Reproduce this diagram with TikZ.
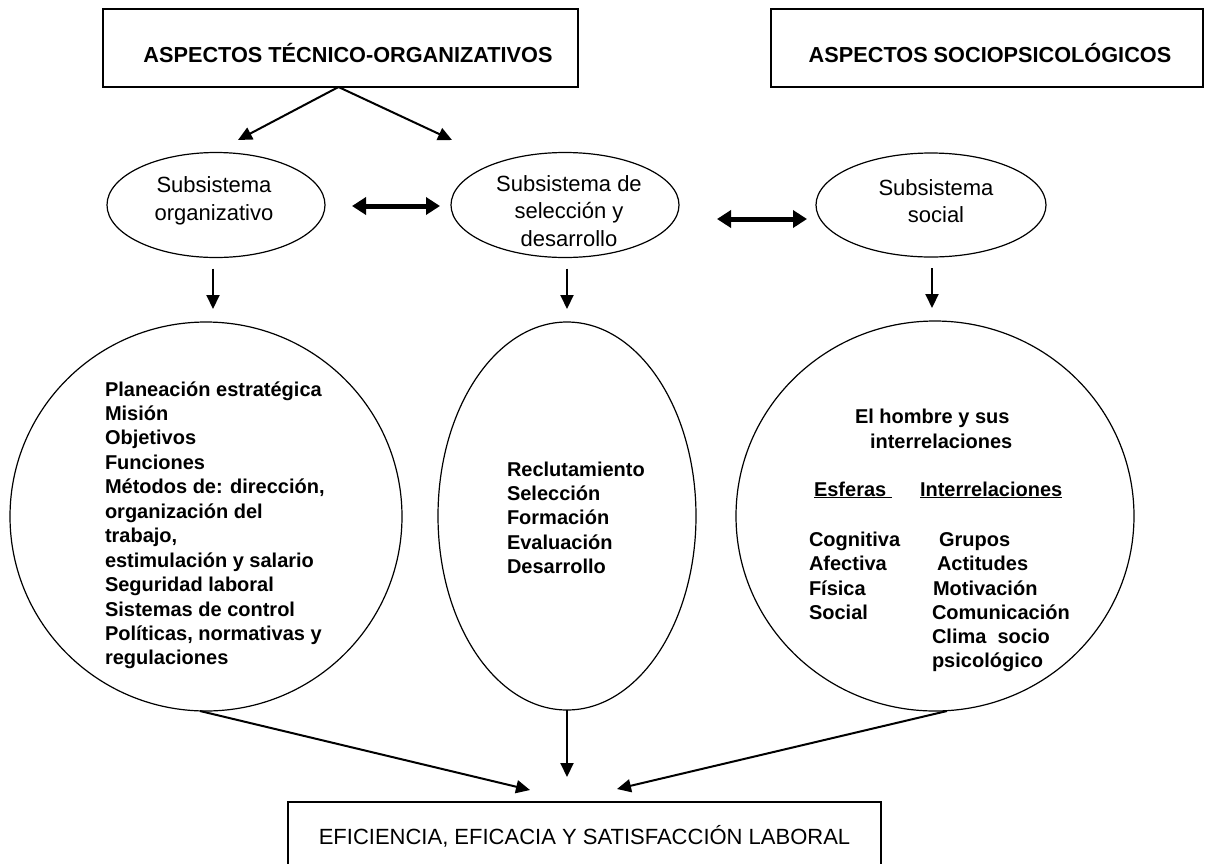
\documentclass[tikz,border=0pt]{standalone}
\usepackage{fontspec}
\setmainfont{Liberation Sans}
\usetikzlibrary{shapes.geometric,arrows.meta}
\begin{document}
\begin{tikzpicture}[x=1pt,y=-1pt,
  every node/.style={inner sep=0pt, outer sep=0pt},
  topbox/.style={draw, line width=1.5pt, minimum height=78pt},
  toptext/.style={font=\fontsize{21.7}{26}\selectfont\bfseries},
  subsys/.style={draw, ellipse, line width=1.2pt},
  subtext/.style={align=center, font=\fontsize{22}{27.5}\selectfont},
  area/.style={draw, ellipse, line width=1.2pt},
  item/.style={anchor=base west, font=\fontsize{20}{24.45}\selectfont\bfseries},
  arr/.style={line width=2pt, -{Triangle[length=14pt,width=13pt]}},
  dbl/.style={line width=5pt, {Triangle[length=14pt,width=17pt]}-{Triangle[length=14pt,width=17pt]}},
]
\useasboundingbox (0,0) rectangle (1212,863);

% headings
\node[topbox, minimum width=475pt] (t1) at (340.5,48) {};
\node[toptext] (t1l) at (348,53) {ASPECTOS TÉCNICO-ORGANIZATIVOS};
\node[topbox, minimum width=432pt] (t2) at (987,48) {};
\node[toptext] (t2l) at (990,53) {ASPECTOS SOCIOPSICOLÓGICOS};

% subsystems
\node[subsys, minimum width=218pt, minimum height=105pt] (e1) at (216,205) {};
\node[subtext] (e1l) at (214,201) {Subsistema\\organizativo};
\node[subsys, minimum width=228pt, minimum height=105pt] (e2) at (565,205) {};
\node[subtext] (e2l) at (569,211) {Subsistema de\\selección y\\desarrollo};
\node[subsys, minimum width=230pt, minimum height=104pt] (e3) at (931,205) {};
\node[subtext] (e3l) at (936,201) {Subsistema\\social};

% content areas
\node[area, minimum width=392pt, minimum height=389pt] (c1) at (206,516.5) {};
\node[area, minimum width=258pt, minimum height=388pt] (c2) at (567,516) {};
\node[area, minimum width=398pt, minimum height=390pt] (c3) at (935,516) {};

% result
\node[draw, line width=1.5pt, minimum width=593pt, minimum height=68pt,
  font=\fontsize{22}{26}\selectfont] (b) at (584.5,836)
  {EFICIENCIA, EFICACIA Y SATISFACCIÓN LABORAL};

% organisational subsystem contents
\node[item] (l1) at (105,396) {\begin{tabular}[t]{@{}l@{}}
Planeación estratégica\\
Misión\\
Objetivos\\
Funciones\\
Métodos de: dirección,\\
organización del\\
trabajo,\\
estimulación y salario\\
Seguridad laboral\\
Sistemas de control\\
Políticas, normativas y\\
regulaciones
\end{tabular}};

% selection subsystem contents
\node[item] (l2) at (507,476) {\begin{tabular}[t]{@{}l@{}}
Reclutamiento\\
Selección\\
Formación\\
Evaluación\\
Desarrollo
\end{tabular}};

% social subsystem contents
\node[item] (s1) at (855,423) {El hombre y sus};
\node[item] (s2) at (870,448) {interrelaciones};
\node[item] (h1) at (814,496) {\underline{Esferas\ }};
\node[item] (h2) at (920,496) {\underline{Interrelaciones}};
\node[item] (a1) at (809,546) {Cognitiva};
\node[item] (a2) at (809,570) {Afectiva};
\node[item] (a3) at (809,595) {Física};
\node[item] (a4) at (809,619) {Social};
\node[item] (b1) at (939,546) {Grupos};
\node[item] (b2) at (937,570) {Actitudes};
\node[item] (b3) at (933,595) {Motivación};
\node[item] (b4) at (932,619) {Comunicación};
\node[item] (b5) at (932,643) {Clima\ \ socio};
\node[item] (b6) at (932,667) {psicológico};

% arrow ends
\coordinate (tl) at (238,140);
\coordinate (tr) at (452,140);
\coordinate (inL) at (530,790);
\coordinate (inM) at (567,777);
\coordinate (inR) at (617,789);

% connectors
\draw[arr] ([xshift=-2pt]t1.south) -- (tl);
\draw[arr] ([xshift=-2pt]t1.south) -- (tr);

\draw[dbl, shorten <=27pt, shorten >=11pt] ([yshift=-1pt]e1.east) -- ([yshift=-1pt]e2.west);
\draw[dbl, shorten <=38pt, shorten >=9pt] ([yshift=-14pt]e2.east) -- ([yshift=-14pt]e3.west);

\draw[arr, shorten <=11pt, shorten >=13pt] ([xshift=-3pt]e1.south) -- ([xshift=-3pt]e1.south |- c1.north);
\draw[arr, shorten <=11pt, shorten >=13pt] ([xshift=2pt]e2.south) -- ([xshift=2pt]e2.south |- c2.north);
\draw[arr, shorten <=11pt, shorten >=13pt] ([xshift=1pt]e3.south) -- ([xshift=1pt]e3.south |- c3.north);

\draw[arr] ([xshift=-6pt]c1.south) -- (inL);
\draw[arr] (c2.south) -- (inM);
\draw[arr] ([xshift=12pt]c3.south) -- (inR);
\end{tikzpicture}
\end{document}
